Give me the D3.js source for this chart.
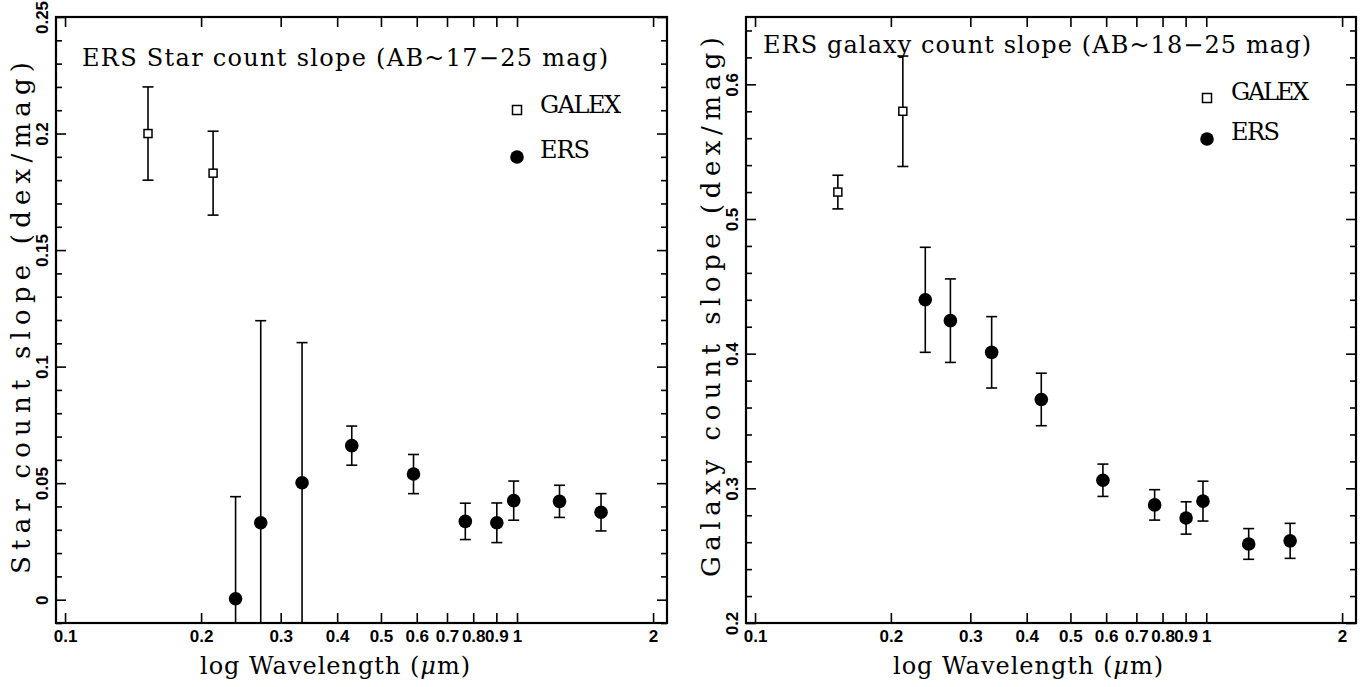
<!DOCTYPE html>
<html><head><meta charset="utf-8">
<script src="https://cdn.jsdelivr.net/npm/d3@7"></script>
<style>body{margin:0;background:#fff}svg{display:block}
.tl{font-family:'Liberation Sans',Arial,sans-serif;font-weight:bold;font-size:17px;fill:#000}</style>
</head><body>
<svg id="c" width="1361" height="687"></svg>
<script>
// ---------------- data ----------------
const galexWavelengths = [0.1526, 0.2126];
const ersWavelengths = [0.2384, 0.2710, 0.3345, 0.4309, 0.5902, 0.7684, 0.9022, 0.9833, 1.2417, 1.5341];

const starGalexSlope = [0.200, 0.183];
const starGalexErr   = [0.020, 0.018];
const starErsSlope = [0.0004, 0.0330, 0.0502, 0.0661, 0.0539, 0.0336, 0.0330, 0.0425, 0.0422, 0.0375];
const starErsErr   = [0.0438, 0.0867, 0.0601, 0.0084, 0.0084, 0.0078, 0.0085, 0.0084, 0.0069, 0.0080];

const galaxyGalexSlope = [0.520, 0.580];
const galaxyGalexErr   = [0.0125, 0.041];
const galaxyErsSlope = [0.440, 0.4245, 0.401, 0.366, 0.306, 0.2877, 0.278, 0.2905, 0.2587, 0.261];
const galaxyErsErr   = [0.039, 0.031, 0.0265, 0.0195, 0.012, 0.0113, 0.012, 0.0148, 0.0114, 0.013];

const xTickValues = [0.1,0.2,0.3,0.4,0.5,0.6,0.7,0.8,0.9,1,2];
const xTickLabels = ["0.1","0.2","0.3","0.4","0.5","0.6","0.7","0.8","0.9","1","2"];

const starYMajor = [0,0.05,0.1,0.15,0.2,0.25];
const starYLabels = ["0","0.05","0.1","0.15","0.2","0.25"];
const starYMinor = [-0.01,0.01,0.02,0.03,0.04,0.06,0.07,0.08,0.09,0.11,0.12,0.13,0.14,0.16,0.17,0.18,0.19,0.21,0.22,0.23,0.24];

const galaxyYMajor = [0.2,0.3,0.4,0.5,0.6];
const galaxyYLabels = ["0.2","0.3","0.4","0.5","0.6"];
const galaxyYMinor = [0.22,0.24,0.26,0.28,0.32,0.34,0.36,0.38,0.42,0.44,0.46,0.48,0.52,0.54,0.56,0.58,0.62,0.64];

const legendLabels = ["GALEX","ERS"];
const titles = ["ERS Star count slope (AB~17\u221225 mag)", "ERS galaxy count slope (AB~18\u221225 mag)"];
const yTitles = ["Star count slope (dex/mag)", "Galaxy count slope (dex/mag)"];

// ---------------- layout ----------------
const svg = d3.select("#c");
const SERIF = "'DejaVu Serif', serif";
const FS = 24;
const FSY = 26;

function stretch(sel, w){
  sel.attr("textLength", w).attr("lengthAdjust", "spacing");
  return sel;
}

const panels = [
  {x0:56, x1:667, top:17, bottom:623, xDom:[0.0955, 2.147], yDom:[-0.01,0.25],
   major:starYMajor, labels:starYLabels, minor:starYMinor,
   gv:starGalexSlope, ge:starGalexErr, ev:starErsSlope, ee:starErsErr,
   title:titles[0], titleX:82, titleW:526, titleY:66,
   yTitle:yTitles[0], yTitleX:30, yTitleCy:318, yTitleW:512,
   legX:517, legSqY:110, legCiY:157, legTextX:540, legGW:81, legEW:50, legGY:113, legEY:158,
   xTitleCx:335, xTitleW:270},
  {x0:746, x1:1356, top:17, bottom:623, xDom:[0.0955, 2.147], yDom:[0.2,0.65],
   major:galaxyYMajor, labels:galaxyYLabels, minor:galaxyYMinor,
   gv:galaxyGalexSlope, ge:galaxyGalexErr, ev:galaxyErsSlope, ee:galaxyErsErr,
   title:titles[1], titleX:763, titleW:548, titleY:53,
   yTitle:yTitles[1], yTitleX:720, yTitleCy:307, yTitleW:540,
   legX:1207, legSqY:98, legCiY:139, legTextX:1231, legGW:78, legEW:49, legGY:100, legEY:140,
   xTitleCx:1028, xTitleW:270}
];

panels.forEach((p, i) => {
  const x = d3.scaleLog().domain(p.xDom).range([p.x0, p.x1]);
  const y = d3.scaleLinear().domain(p.yDom).range([p.bottom, p.top]);
  const g = svg.append("g");

  const clipId = "clip" + i;
  svg.append("clipPath").attr("id", clipId).append("rect")
    .attr("x", p.x0).attr("y", p.top).attr("width", p.x1 - p.x0).attr("height", p.bottom - p.top);

  // axes (ticks inward)
  const xb = g.append("g").attr("transform", `translate(0,${p.bottom})`)
    .call(d3.axisBottom(x).tickValues(xTickValues).tickFormat((d,k)=>xTickLabels[k]).tickSize(-10).tickPadding(3));
  xb.attr("font-size", null).attr("font-family", null);
  xb.selectAll("text").attr("class","tl").attr("fill",null).attr("dy","0.95em");
  g.append("g").attr("transform", `translate(0,${p.top})`)
    .call(d3.axisTop(x).tickValues(xTickValues).tickFormat("").tickSize(-10));

  const yl = g.append("g").attr("transform", `translate(${p.x0},0)`)
    .call(d3.axisLeft(y).tickValues(p.major).tickFormat((d,k)=>p.labels[k]).tickSize(-10));
  yl.attr("font-size", null).attr("font-family", null);
  yl.selectAll("text").attr("class","tl").attr("fill",null)
    .attr("transform","rotate(-90)").attr("x",0).attr("y",-8).attr("dy",0)
    .attr("text-anchor","middle");
  g.append("g").attr("transform", `translate(${p.x0},0)`)
    .call(d3.axisLeft(y).tickValues(p.minor).tickFormat("").tickSize(-6));
  g.append("g").attr("transform", `translate(${p.x1},0)`)
    .call(d3.axisRight(y).tickValues(p.major).tickFormat("").tickSize(-10));
  g.append("g").attr("transform", `translate(${p.x1},0)`)
    .call(d3.axisRight(y).tickValues(p.minor).tickFormat("").tickSize(-6));
  g.selectAll(".domain").remove();
  g.selectAll(".tick line").attr("stroke","#000").attr("stroke-width",1.6);

  // frame
  g.append("rect").attr("x",p.x0).attr("y",p.top).attr("width",p.x1-p.x0).attr("height",p.bottom-p.top)
    .attr("fill","none").attr("stroke","#000").attr("stroke-width",2.2);

  // error bars
  const eg = g.append("g").attr("clip-path", `url(#${clipId})`).attr("stroke","#000").attr("stroke-width",1.6);
  function errbars(ws, vs, es){
    ws.forEach((w, k) => {
      const cx = x(w), lo = y(vs[k]-es[k]), hi = y(vs[k]+es[k]);
      eg.append("line").attr("x1",cx).attr("x2",cx).attr("y1",lo).attr("y2",hi);
      eg.append("line").attr("x1",cx-5.5).attr("x2",cx+5.5).attr("y1",lo).attr("y2",lo);
      eg.append("line").attr("x1",cx-5.5).attr("x2",cx+5.5).attr("y1",hi).attr("y2",hi);
    });
  }
  errbars(galexWavelengths, p.gv, p.ge);
  errbars(ersWavelengths, p.ev, p.ee);

  // markers
  galexWavelengths.forEach((w,k)=>{
    g.append("rect").attr("x",x(w)-4).attr("y",y(p.gv[k])-4).attr("width",8).attr("height",8)
      .attr("fill","#fff").attr("stroke","#000").attr("stroke-width",1.5);
  });
  ersWavelengths.forEach((w,k)=>{
    g.append("circle").attr("cx",x(w)).attr("cy",y(p.ev[k])).attr("r",6.8).attr("fill","#000");
  });

  // title
  stretch(g.append("text").attr("x",p.titleX).attr("y",p.titleY).attr("font-family",SERIF).attr("font-size",FS)
    .attr("fill","#000").text(p.title), p.titleW);

  // legend
  g.append("rect").attr("x",p.legX-4.5).attr("y",p.legSqY-4.5).attr("width",9).attr("height",9)
    .attr("fill","#fff").attr("stroke","#000").attr("stroke-width",1.5);
  g.append("circle").attr("cx",p.legX).attr("cy",p.legCiY).attr("r",6.8).attr("fill","#000");
  stretch(g.append("text").attr("x",p.legTextX).attr("y",p.legGY).attr("font-family",SERIF).attr("font-size",FS).text(legendLabels[0]), p.legGW);
  stretch(g.append("text").attr("x",p.legTextX).attr("y",p.legEY).attr("font-family",SERIF).attr("font-size",FS).text(legendLabels[1]), p.legEW);

  // x title
  const xt = g.append("text").attr("x",p.xTitleCx).attr("y",674).attr("text-anchor","middle")
    .attr("font-family",SERIF).attr("font-size",FS);
  xt.append("tspan").text("log Wavelength (");
  xt.append("tspan").attr("font-style","italic").text("\u03bc");
  xt.append("tspan").text("m)");
  stretch(xt, p.xTitleW);

  // y title
  stretch(g.append("text").attr("transform",`translate(${p.yTitleX},${p.yTitleCy}) rotate(-90)`)
    .attr("text-anchor","middle").attr("font-family",SERIF).attr("font-size",FSY).text(p.yTitle), p.yTitleW);
});
</script>
</body></html>
